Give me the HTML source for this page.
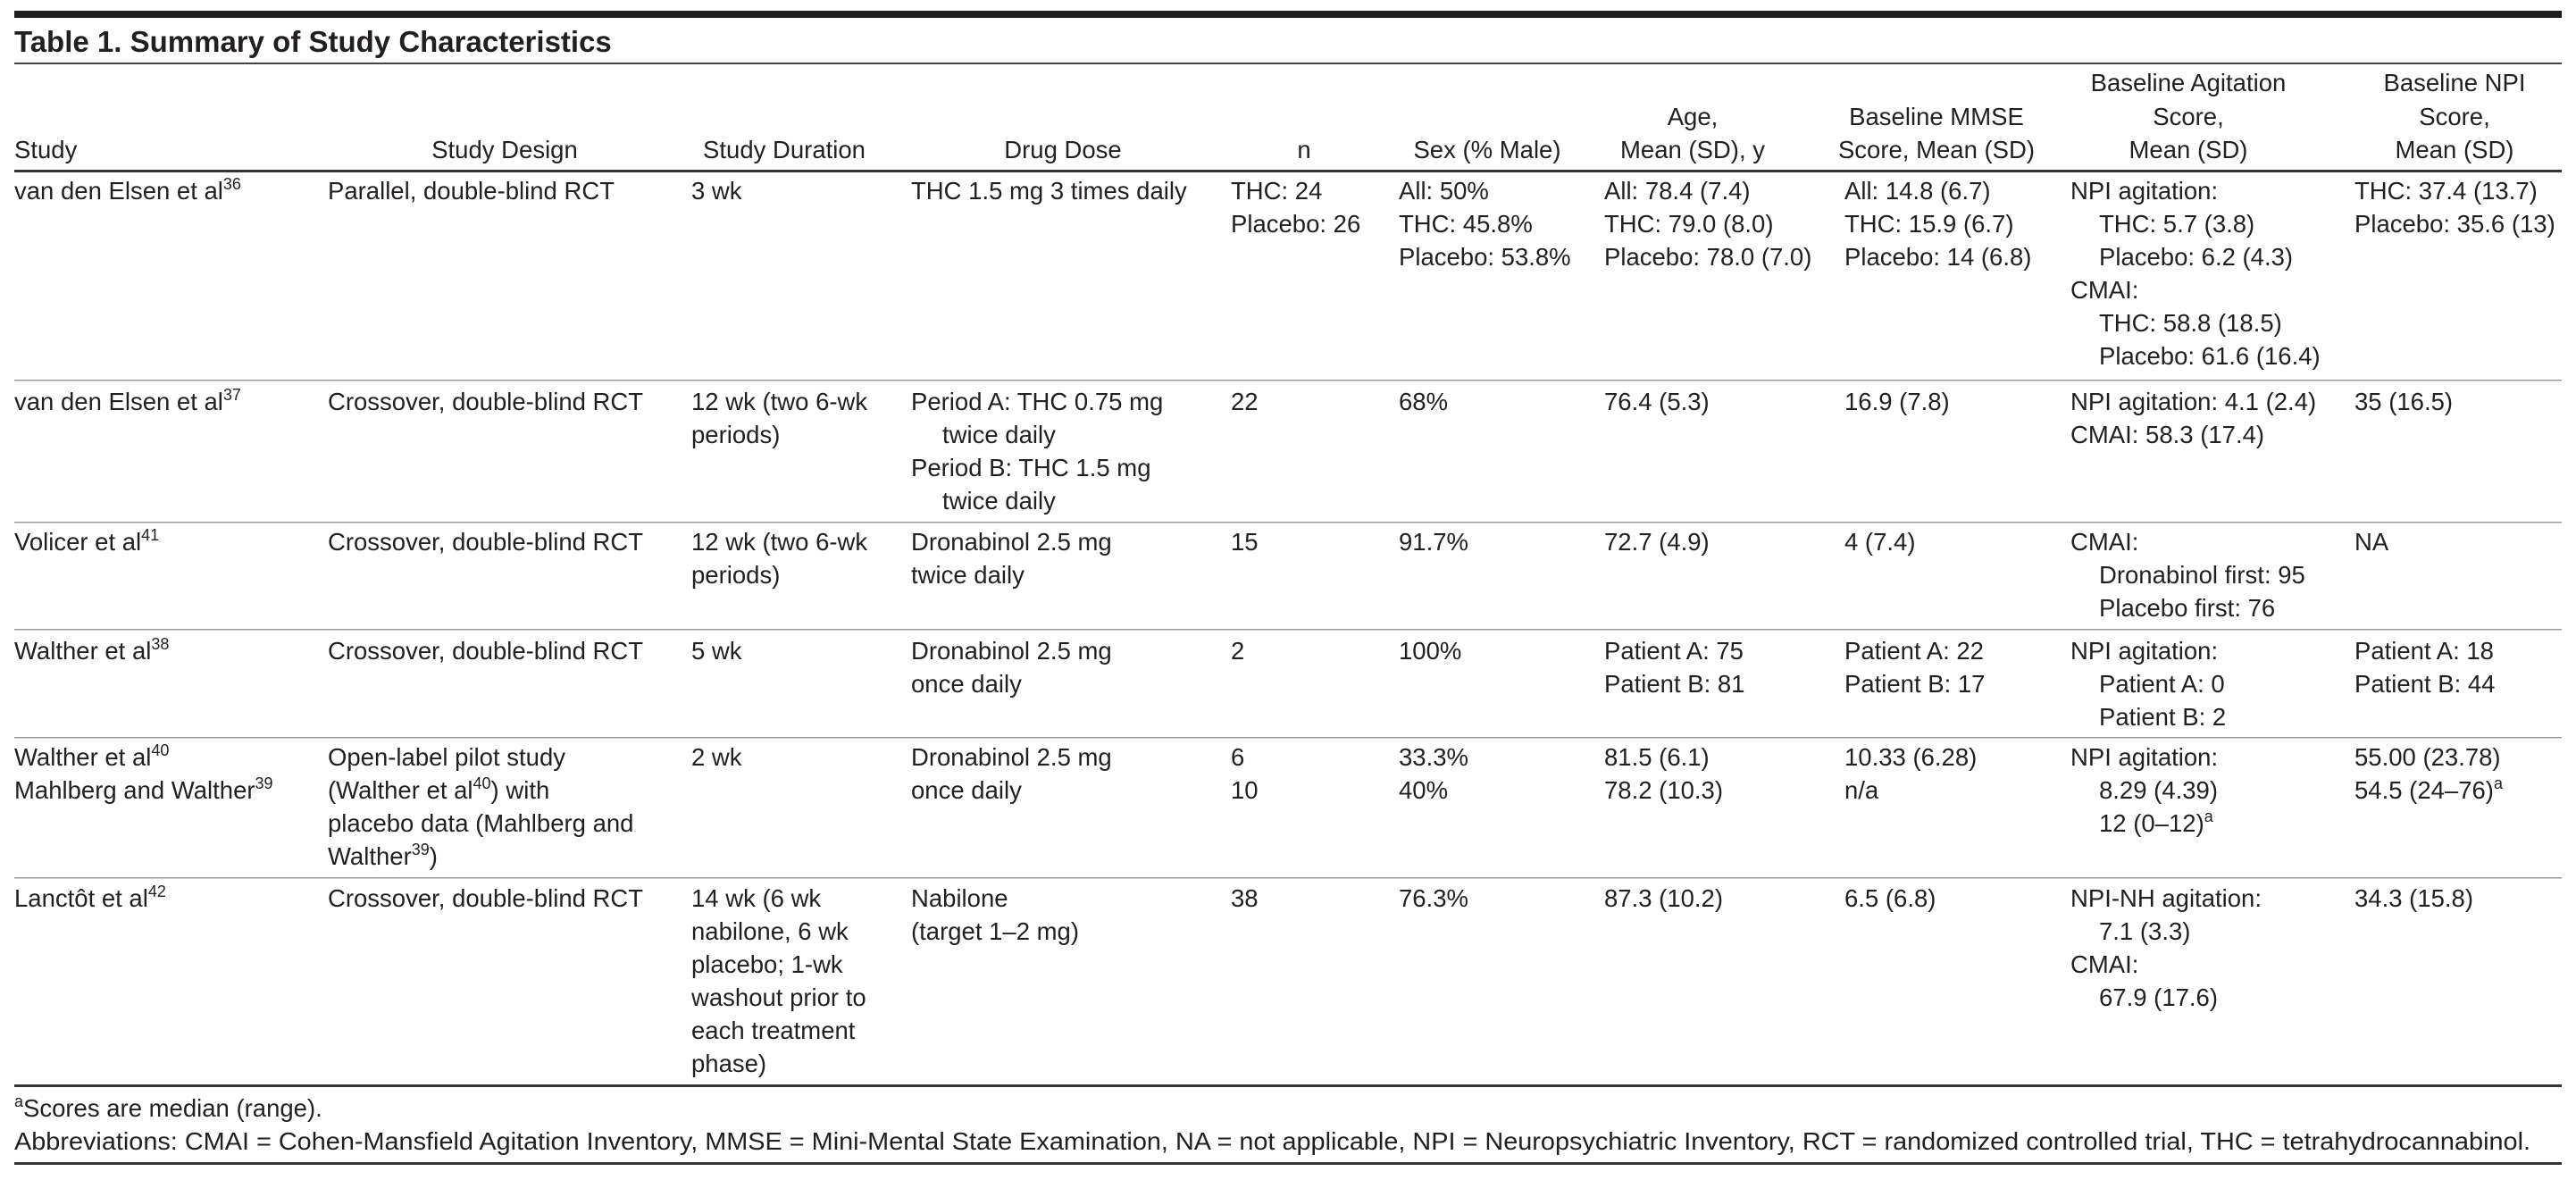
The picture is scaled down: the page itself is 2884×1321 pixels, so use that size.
<!DOCTYPE html>
<html><head><meta charset="utf-8"><style>
html,body{margin:0;padding:0;background:#fff;}
svg{display:block;}
text{font-family:"Liberation Sans",sans-serif;font-size:27.5px;fill:#231f20;}
.h{text-anchor:middle;}
.b{font-weight:bold;font-size:33px;}
.s{font-size:18px;}
</style></head><body>
<svg width="2884" height="1321" viewBox="0 0 2884 1321" xmlns="http://www.w3.org/2000/svg">
<rect x="16" y="12" width="2852" height="8" fill="#231f20"/>
<text x="16" y="58" class="b">Table 1. Summary of Study Characteristics</text>
<rect x="16" y="70" width="2852" height="2" fill="#444"/>

<text x="16" y="177">Study</text>
<text x="565" y="177" class="h">Study Design</text>
<text x="878" y="177" class="h">Study Duration</text>
<text x="1190" y="177" class="h">Drug Dose</text>
<text x="1460" y="177" class="h">n</text>
<text x="1665" y="177" class="h">Sex (% Male)</text>
<text x="1895" y="140" class="h">Age,</text>
<text x="1895" y="177" class="h">Mean (SD), y</text>
<text x="2168" y="140" class="h">Baseline MMSE</text>
<text x="2168" y="177" class="h">Score, Mean (SD)</text>
<text x="2450" y="102" class="h">Baseline Agitation</text>
<text x="2450" y="140" class="h">Score,</text>
<text x="2450" y="177" class="h">Mean (SD)</text>
<text x="2748" y="102" class="h">Baseline NPI</text>
<text x="2748" y="140" class="h">Score,</text>
<text x="2748" y="177" class="h">Mean (SD)</text>
<rect x="16" y="190" width="2852" height="3" fill="#333"/>

<rect x="16" y="425" width="2852" height="1.5" fill="#999"/>
<rect x="16" y="584" width="2852" height="1.5" fill="#999"/>
<rect x="16" y="704" width="2852" height="1.5" fill="#999"/>
<rect x="16" y="825" width="2852" height="1.5" fill="#999"/>
<rect x="16" y="982" width="2852" height="1.5" fill="#999"/>
<rect x="16" y="1214" width="2852" height="3" fill="#333"/>

<text x="16" y="223">van den Elsen et al<tspan class="s" dy="-11">36</tspan></text>
<text x="367" y="223">Parallel, double-blind RCT</text>
<text x="774" y="223">3 wk</text>
<text x="1020" y="223">THC 1.5 mg 3 times daily</text>
<text x="1378" y="223">THC: 24</text>
<text x="1378" y="260">Placebo: 26</text>
<text x="1566" y="223">All: 50%</text>
<text x="1566" y="260">THC: 45.8%</text>
<text x="1566" y="297">Placebo: 53.8%</text>
<text x="1796" y="223">All: 78.4 (7.4)</text>
<text x="1796" y="260">THC: 79.0 (8.0)</text>
<text x="1796" y="297">Placebo: 78.0 (7.0)</text>
<text x="2065" y="223">All: 14.8 (6.7)</text>
<text x="2065" y="260">THC: 15.9 (6.7)</text>
<text x="2065" y="297">Placebo: 14 (6.8)</text>
<text x="2318" y="223">NPI agitation:</text>
<text x="2350" y="260">THC: 5.7 (3.8)</text>
<text x="2350" y="297">Placebo: 6.2 (4.3)</text>
<text x="2318" y="334">CMAI:</text>
<text x="2350" y="371">THC: 58.8 (18.5)</text>
<text x="2350" y="408">Placebo: 61.6 (16.4)</text>
<text x="2636" y="223">THC: 37.4 (13.7)</text>
<text x="2636" y="260">Placebo: 35.6 (13)</text>

<text x="16" y="459">van den Elsen et al<tspan class="s" dy="-11">37</tspan></text>
<text x="367" y="459">Crossover, double-blind RCT</text>
<text x="774" y="459">12 wk (two 6-wk</text>
<text x="774" y="496">periods)</text>
<text x="1020" y="459">Period A: THC 0.75 mg</text>
<text x="1055" y="496">twice daily</text>
<text x="1020" y="533">Period B: THC 1.5 mg</text>
<text x="1055" y="570">twice daily</text>
<text x="1378" y="459">22</text>
<text x="1566" y="459">68%</text>
<text x="1796" y="459">76.4 (5.3)</text>
<text x="2065" y="459">16.9 (7.8)</text>
<text x="2318" y="459">NPI agitation: 4.1 (2.4)</text>
<text x="2318" y="496">CMAI: 58.3 (17.4)</text>
<text x="2636" y="459">35 (16.5)</text>

<text x="16" y="616">Volicer et al<tspan class="s" dy="-11">41</tspan></text>
<text x="367" y="616">Crossover, double-blind RCT</text>
<text x="774" y="616">12 wk (two 6-wk</text>
<text x="774" y="653">periods)</text>
<text x="1020" y="616">Dronabinol 2.5 mg</text>
<text x="1020" y="653">twice daily</text>
<text x="1378" y="616">15</text>
<text x="1566" y="616">91.7%</text>
<text x="1796" y="616">72.7 (4.9)</text>
<text x="2065" y="616">4 (7.4)</text>
<text x="2318" y="616">CMAI:</text>
<text x="2350" y="653">Dronabinol first: 95</text>
<text x="2350" y="690">Placebo first: 76</text>
<text x="2636" y="616">NA</text>

<text x="16" y="738">Walther et al<tspan class="s" dy="-11">38</tspan></text>
<text x="367" y="738">Crossover, double-blind RCT</text>
<text x="774" y="738">5 wk</text>
<text x="1020" y="738">Dronabinol 2.5 mg</text>
<text x="1020" y="775">once daily</text>
<text x="1378" y="738">2</text>
<text x="1566" y="738">100%</text>
<text x="1796" y="738">Patient A: 75</text>
<text x="1796" y="775">Patient B: 81</text>
<text x="2065" y="738">Patient A: 22</text>
<text x="2065" y="775">Patient B: 17</text>
<text x="2318" y="738">NPI agitation:</text>
<text x="2350" y="775">Patient A: 0</text>
<text x="2350" y="812">Patient B: 2</text>
<text x="2636" y="738">Patient A: 18</text>
<text x="2636" y="775">Patient B: 44</text>

<text x="16" y="857">Walther et al<tspan class="s" dy="-11">40</tspan></text>
<text x="16" y="894">Mahlberg and Walther<tspan class="s" dy="-11">39</tspan></text>
<text x="367" y="857">Open-label pilot study</text>
<text x="367" y="894">(Walther et al<tspan class="s" dy="-11">40</tspan><tspan dy="11">) with</tspan></text>
<text x="367" y="931">placebo data (Mahlberg and</text>
<text x="367" y="968">Walther<tspan class="s" dy="-11">39</tspan><tspan dy="11">)</tspan></text>
<text x="774" y="857">2 wk</text>
<text x="1020" y="857">Dronabinol 2.5 mg</text>
<text x="1020" y="894">once daily</text>
<text x="1378" y="857">6</text>
<text x="1378" y="894">10</text>
<text x="1566" y="857">33.3%</text>
<text x="1566" y="894">40%</text>
<text x="1796" y="857">81.5 (6.1)</text>
<text x="1796" y="894">78.2 (10.3)</text>
<text x="2065" y="857">10.33 (6.28)</text>
<text x="2065" y="894">n/a</text>
<text x="2318" y="857">NPI agitation:</text>
<text x="2350" y="894">8.29 (4.39)</text>
<text x="2350" y="931">12 (0–12)<tspan class="s" dy="-11">a</tspan></text>
<text x="2636" y="857">55.00 (23.78)</text>
<text x="2636" y="894">54.5 (24–76)<tspan class="s" dy="-11">a</tspan></text>

<text x="16" y="1015">Lanctôt et al<tspan class="s" dy="-11">42</tspan></text>
<text x="367" y="1015">Crossover, double-blind RCT</text>
<text x="774" y="1015">14 wk (6 wk</text>
<text x="774" y="1052">nabilone, 6 wk</text>
<text x="774" y="1089">placebo; 1-wk</text>
<text x="774" y="1126">washout prior to</text>
<text x="774" y="1163">each treatment</text>
<text x="774" y="1200">phase)</text>
<text x="1020" y="1015">Nabilone</text>
<text x="1020" y="1052">(target 1–2 mg)</text>
<text x="1378" y="1015">38</text>
<text x="1566" y="1015">76.3%</text>
<text x="1796" y="1015">87.3 (10.2)</text>
<text x="2065" y="1015">6.5 (6.8)</text>
<text x="2318" y="1015">NPI-NH agitation:</text>
<text x="2350" y="1052">7.1 (3.3)</text>
<text x="2318" y="1089">CMAI:</text>
<text x="2350" y="1126">67.9 (17.6)</text>
<text x="2636" y="1015">34.3 (15.8)</text>

<text x="16" y="1250"><tspan class="s" dy="-11">a</tspan><tspan dy="11">Scores are median (range).</tspan></text>
<text x="16" y="1287" textLength="2817" lengthAdjust="spacingAndGlyphs">Abbreviations: CMAI = Cohen-Mansfield Agitation Inventory, MMSE = Mini-Mental State Examination, NA = not applicable, NPI = Neuropsychiatric Inventory, RCT = randomized controlled trial, THC = tetrahydrocannabinol.</text>
<rect x="16" y="1301" width="2852" height="3" fill="#333"/>
</svg>
</body></html>
